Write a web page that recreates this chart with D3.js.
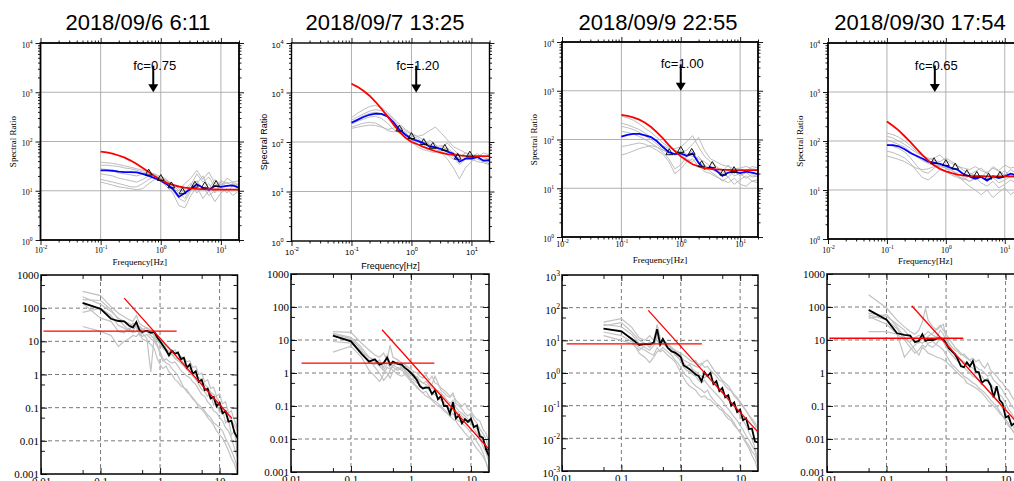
<!DOCTYPE html>
<html>
<head>
<meta charset="utf-8">
<script src="https://cdn.jsdelivr.net/npm/d3@7"></script>
<style>
  body { margin: 0; background: #fff; }
  svg { display: block; }
</style>
</head>
<body>
<div id="container"></div>
<script>
// ---- data ----
const titles = ["2018/09/6 6:11", "2018/09/7 13:25", "2018/09/9 22:55", "2018/09/30 17:54"];
const fcValues = [0.75, 1.20, 1.00, 0.65];

// spectral ratio panels (top row)
const topFreq = [0.1, 0.126, 0.158, 0.2, 0.251, 0.316, 0.398, 0.501, 0.631, 0.794, 1, 1.26, 1.58, 2, 2.51, 3.16, 3.98, 5.01, 6.31, 7.94, 10, 12.6, 15.8, 20];

const ratioRed1 = [62, 60, 57, 52, 47, 41, 35, 29, 24, 19.6, 16.6, 14.5, 13.1, 12.2, 11.6, 11.2, 10.9, 10.8, 10.7, 10.6, 10.55, 10.5, 10.5, 10.5];
const ratioRed2 = [1500, 1300, 1080, 860, 650, 470, 330, 225, 160, 122, 100, 90, 80, 72, 65, 60, 57, 55, 53.5, 52.5, 52, 52, 52, 52];
const ratioRed3 = [320, 305, 285, 255, 220, 180, 140, 105, 77, 58, 45, 37, 31, 28, 26, 25, 24.5, 24, 23.8, 23.6, 23.5, 23.5, 23.5, 23.5];
const ratioRed4 = [250, 205, 165, 125, 95, 70, 52, 40, 32, 27, 24, 22, 20.5, 19.8, 19.4, 19.2, 19.1, 19, 19, 19, 19, 19, 19, 19];

const ratioBlue1 = [26, 26, 25.5, 24.5, 24, 24, 23.5, 22, 20, 18, 16, 13.5, 11, 7.5, 9, 11, 13.5, 11.5, 10.5, 12.5, 12, 12.5, 12.8, 11.5];
const ratioBlue2 = [245, 280, 320, 355, 375, 370, 330, 250, 175, 140, 115, 105, 95, 82, 78, 72, 64, 58, 40, 46, 46, 50, 42, 43];
const ratioBlue3 = [115, 125, 131, 130, 122, 112, 92, 70, 55, 50, 52, 46, 52, 33, 25, 27, 23, 18, 21, 22, 20.5, 22, 21, 19.5];
const ratioBlue4 = [82, 82, 78, 68, 57, 50, 44, 38, 36, 34, 31, 28, 26, 21, 19, 17, 18.5, 15.5, 19, 17.5, 19, 21.5, 20, 20];

const ratioGray1 = [
  [38, 37, 36, 34, 32, 30, 28, 26, 24, 21, 18, 16, 14, 11, 9, 13, 22, 15, 19, 12, 16, 14, 15, 13],
  [33, 33, 32, 31, 29, 28, 26, 24, 22, 20, 17, 14, 10, 7, 6, 10, 14, 20, 11, 17, 13, 15, 12, 14],
  [28, 27, 25, 23, 22, 21, 20, 22, 23, 22, 19, 15, 11, 8, 11, 14, 9, 12, 8, 10, 12, 9, 13, 11],
  [22, 21, 20, 18, 17, 16, 15, 17, 20, 21, 16, 12, 9, 5, 4.5, 8, 12, 7, 10, 6, 9, 11, 8, 10],
  [17, 16, 15, 14, 13, 12, 12, 14, 17, 19, 18, 16, 13, 10, 14, 18, 26, 17, 24, 14, 12, 18, 15, 16],
  [15, 14, 13, 12, 11.5, 11, 10.5, 11, 14, 17, 20, 17, 12, 9, 7, 11, 16, 11, 14, 9, 15, 12, 14, 12]
];
const ratioGray2 = [
  [310, 380, 450, 520, 550, 500, 400, 300, 230, 180, 150, 130, 140, 170, 200, 150, 110, 80, 70, 60, 55, 50, 60, 55],
  [275, 320, 370, 420, 450, 430, 370, 280, 200, 150, 120, 110, 100, 90, 80, 85, 70, 50, 35, 45, 50, 45, 40, 42],
  [230, 260, 290, 320, 330, 300, 240, 180, 150, 140, 130, 120, 95, 80, 70, 65, 55, 45, 50, 60, 55, 48, 44, 40],
  [200, 220, 240, 250, 240, 210, 170, 160, 170, 160, 110, 90, 80, 110, 90, 60, 45, 30, 18, 30, 40, 50, 42, 36],
  [188, 200, 210, 220, 215, 200, 180, 190, 210, 170, 140, 130, 110, 90, 75, 70, 75, 60, 55, 50, 45, 40, 38, 35],
  [250, 290, 340, 380, 400, 370, 320, 250, 190, 140, 100, 80, 70, 65, 60, 80, 95, 70, 55, 48, 52, 58, 48, 45]
];
const ratioGray3 = [
  [300, 280, 250, 210, 170, 140, 110, 85, 70, 60, 55, 60, 80, 110, 60, 40, 35, 30, 28, 25, 26, 28, 25, 24],
  [216, 200, 180, 160, 135, 110, 90, 75, 65, 65, 70, 90, 120, 70, 45, 35, 28, 22, 30, 20, 25, 22, 28, 26],
  [186, 175, 160, 140, 120, 100, 80, 62, 50, 48, 55, 50, 45, 40, 35, 28, 24, 20, 17, 22, 18, 21, 17, 18],
  [146, 140, 130, 115, 100, 85, 70, 55, 40, 25, 30, 45, 60, 35, 28, 22, 18, 14, 17, 12, 15, 18, 14, 13],
  [72, 75, 80, 85, 80, 70, 60, 50, 35, 20, 25, 35, 40, 28, 22, 20, 17, 15, 13, 16, 12, 11, 14, 15],
  [48, 52, 58, 65, 70, 75, 70, 60, 55, 50, 48, 40, 35, 45, 30, 25, 22, 20, 24, 18, 20, 16, 19, 17]
];
const ratioGray4 = [
  [145, 135, 120, 100, 80, 62, 50, 42, 45, 52, 40, 35, 30, 28, 26, 30, 25, 22, 28, 24, 20, 26, 22, 24],
  [125, 115, 100, 85, 70, 58, 50, 45, 40, 38, 45, 38, 32, 25, 22, 20, 18, 24, 17, 20, 25, 18, 22, 20],
  [106, 95, 85, 75, 60, 48, 40, 35, 32, 30, 28, 25, 22, 18, 15, 18, 14, 12, 15, 11, 13, 16, 14, 15],
  [84, 78, 70, 60, 45, 32, 24, 22, 28, 35, 30, 25, 20, 15, 12, 10, 8, 10, 7, 9, 11, 8, 10, 9],
  [62, 58, 52, 45, 35, 25, 18, 16, 20, 26, 24, 20, 18, 16, 20, 24, 28, 22, 30, 25, 32, 28, 30, 27],
  [49, 46, 42, 38, 32, 28, 26, 27, 30, 32, 28, 22, 19, 17, 15, 17, 20, 16, 18, 14, 16, 19, 17, 18]
];

// triangle markers [frequency, ratio]
const ratioTri1 = [[0.63, 21.8], [1, 17], [1.5, 12], [2.3, 9.1], [3.7, 12.4], [5.4, 12], [8.3, 12.8]];
const ratioTri2 = [[0.63, 174], [1, 123], [1.6, 93], [2.27, 78], [3.6, 71], [5.9, 47], [9.4, 52]];
const ratioTri3 = [[0.64, 51], [1, 57], [1.53, 52], [2.25, 29], [3.4, 28], [5.2, 19.5], [7.9, 22]];
const ratioTri4 = [[0.63, 36], [1, 33], [1.44, 28], [2.27, 20.5], [3.35, 19], [5.3, 17.5], [8.3, 19]];

// source spectra panels (bottom row)
const botFreq = [0.05, 0.1, 0.15, 0.2, 0.25, 0.3, 0.35, 0.4, 0.45, 0.5, 0.6, 0.7, 0.8, 0.9, 1.0, 1.12, 1.26, 1.41, 1.58, 1.78, 2.0, 2.24, 2.51, 2.82, 3.16, 3.55, 3.98, 4.47, 5.01, 5.62, 6.31, 7.08, 7.94, 8.91, 10, 11.2, 12.6, 14.1, 15.8, 17.8, 20];

const specMean1 = [145, 95, 48, 41, 40, 30, 26, 38, 22, 19, 21, 18, 19, 13, 10, 7.5, 5.5, 3.8, 5.2, 4.2, 4.6, 2.9, 3.2, 1.6, 2.0, 1.05, 1.25, 0.6, 0.7, 0.34, 0.37, 0.19, 0.21, 0.11, 0.14, 0.068, 0.078, 0.038, 0.04, 0.018, 0.012];
const specMean2 = [13.5, 9.1, 3.8, 2.2, 2.6, 1.8, 2.0, 2.9, 1.8, 2.2, 1.9, 1.8, 1.4, 1.2, 1.0, 0.8, 0.6, 0.4, 0.34, 0.36, 0.36, 0.23, 0.3, 0.16, 0.2, 0.1, 0.1, 0.058, 0.13, 0.042, 0.052, 0.03, 0.04, 0.033, 0.041, 0.023, 0.026, 0.012, 0.011, 0.005, 0.003];
const specMean3 = [22.7, 18.8, 11, 7.2, 7.8, 7.5, 8.5, 22, 7.5, 11, 6, 4.6, 4.2, 3.6, 3.1, 1.7, 1.5, 1.3, 1.1, 0.9, 0.81, 0.56, 1.06, 0.8, 1.0, 0.46, 0.56, 0.28, 0.35, 0.18, 0.21, 0.1, 0.125, 0.064, 0.075, 0.036, 0.041, 0.019, 0.02, 0.008, 0.0075];
const specMean4 = [82, 41, 16, 14.4, 13.7, 8.6, 9.5, 15, 9.4, 10, 10, 11, 11.3, 10.5, 8, 5.5, 4.5, 3.7, 2.6, 1.6, 1.5, 2.1, 1.6, 2.3, 1.1, 1.05, 0.5, 0.6, 0.6, 0.42, 0.18, 0.4, 0.15, 0.12, 0.045, 0.05, 0.026, 0.03, 0.017, 0.018, 0.01];

const specGray1 = [
  [320, 240, 110, 70, 55, 45, 40, 60, 35, 30, 25, 22, 20, 14, 11, 9, 7, 6.5, 5, 5.5, 4, 3.5, 3.2, 2.4, 2.6, 1.6, 1.8, 1.0, 1.1, 0.6, 0.7, 0.38, 0.42, 0.22, 0.26, 0.13, 0.15, 0.07, 0.08, 0.04, 0.025],
  [220, 130, 80, 50, 40, 35, 30, 28, 25, 22, 26, 19, 15, 11, 8, 6, 5, 3.5, 4.2, 3.0, 2.6, 2.2, 1.8, 1.4, 1.1, 0.9, 0.7, 0.5, 0.35, 0.3, 0.22, 0.28, 0.12, 0.16, 0.07, 0.09, 0.035, 0.045, 0.015, 0.02, 0.004],
  [75, 100, 60, 30, 25, 20, 35, 25, 20, 14, 16, 12, 10, 7, 5, 3, 2.2, 2, 1.5, 1.2, 0.9, 0.6, 0.4, 0.35, 0.25, 0.2, 0.15, 0.12, 0.1, 0.08, 0.06, 0.05, 0.035, 0.03, 0.025, 0.02, 0.012, 0.008, 0.005, 0.003, 0.0015],
  [28, 20, 15, 7, 10, 12, 15, 14, 18, 12, 10, 8, 6, 3, 2, 1.5, 1.8, 1.2, 1, 0.7, 0.6, 0.45, 0.4, 0.3, 0.25, 0.18, 0.15, 0.1, 0.09, 0.07, 0.05, 0.04, 0.03, 0.02, 0.015, 0.012, 0.008, 0.005, 0.003, 0.002, 0.001],
  [140, 50, 40, 20, 18, 25, 20, 30, 15, 18, 12, 1.2, 15, 10, 9, 7, 6, 5, 4, 3.2, 3.0, 2.8, 2.2, 1.8, 1.5, 1.1, 1.0, 0.8, 0.65, 0.5, 0.4, 0.3, 0.25, 0.2, 0.15, 0.1, 0.08, 0.06, 0.04, 0.03, 0.02],
  [180, 170, 90, 45, 30, 22, 18, 20, 28, 24, 20, 15, 12, 8, 4, 2.5, 3, 2.5, 2.2, 2.4, 1.8, 1.3, 1.1, 0.9, 0.8, 0.6, 0.5, 0.35, 0.25, 0.22, 0.15, 0.12, 0.08, 0.07, 0.05, 0.04, 0.025, 0.02, 0.012, 0.006, 0.003]
];
const specGray2 = [
  [18, 17, 8, 5, 3.5, 3, 4, 2.5, 7, 3, 2.5, 2, 1.8, 1.5, 1.3, 1.1, 1.0, 0.8, 0.7, 0.9, 0.6, 0.8, 0.5, 0.45, 0.35, 0.3, 0.25, 0.2, 0.22, 0.15, 0.12, 0.1, 0.12, 0.08, 0.07, 0.05, 0.04, 0.035, 0.02, 0.015, 0.008],
  [16, 12, 6, 3, 2.5, 2, 1.5, 3.5, 2, 1.5, 1.2, 1.5, 1.1, 0.9, 0.7, 0.6, 0.5, 0.45, 0.35, 0.4, 0.3, 0.25, 0.22, 0.18, 0.15, 0.13, 0.1, 0.08, 0.1, 0.07, 0.06, 0.05, 0.04, 0.035, 0.03, 0.025, 0.02, 0.015, 0.01, 0.006, 0.003],
  [13, 10, 4, 2.5, 1.5, 1, 0.6, 0.8, 1.2, 1.8, 1.4, 1.2, 1.0, 0.8, 0.6, 0.5, 0.35, 0.3, 0.25, 0.2, 0.18, 0.15, 0.12, 0.1, 0.09, 0.07, 0.06, 0.05, 0.04, 0.035, 0.025, 0.02, 0.015, 0.012, 0.01, 0.007, 0.005, 0.004, 0.003, 0.002, 0.001],
  [4.3, 6.5, 3, 1.2, 0.8, 0.55, 0.9, 1.5, 1.3, 1.6, 2.2, 1.4, 1.2, 1.0, 0.9, 0.7, 0.8, 0.6, 0.5, 0.45, 0.4, 0.45, 0.8, 0.5, 0.3, 0.25, 0.2, 0.18, 0.25, 0.12, 0.1, 0.08, 0.06, 0.05, 0.06, 0.04, 0.03, 0.02, 0.015, 0.01, 0.005],
  [15, 11, 5, 2, 1.8, 2.5, 1.2, 1.0, 0.7, 1.1, 1.5, 1.3, 1.6, 1.3, 1.1, 0.9, 0.7, 0.55, 0.5, 0.55, 0.45, 0.35, 0.3, 0.3, 0.25, 0.2, 0.15, 0.12, 0.15, 0.09, 0.07, 0.06, 0.05, 0.04, 0.03, 0.02, 0.015, 0.01, 0.006, 0.004, 0.002],
  [9, 8, 4.5, 3, 2.2, 1.6, 1.2, 2.0, 1.5, 1.2, 0.9, 0.8, 0.9, 0.7, 0.55, 0.45, 0.4, 0.3, 0.25, 0.28, 0.2, 0.16, 0.14, 0.12, 0.1, 0.08, 0.065, 0.05, 0.06, 0.04, 0.035, 0.03, 0.025, 0.02, 0.015, 0.012, 0.008, 0.006, 0.004, 0.002, 0.001]
];
const specGray3 = [
  [36, 46, 25, 12, 10, 14, 10, 30, 12, 9, 8, 6, 5, 4.5, 4, 3.5, 3, 2.5, 2.2, 2.4, 1.8, 2.0, 1.5, 1.6, 1.2, 1.0, 0.8, 0.6, 0.55, 0.4, 0.32, 0.28, 0.2, 0.16, 0.12, 0.09, 0.07, 0.05, 0.035, 0.025, 0.012],
  [31, 26, 15, 8, 6, 5, 7, 12, 10, 8, 6, 5, 4, 3, 2.5, 2.0, 1.6, 1.8, 1.3, 1.1, 0.9, 0.8, 0.7, 0.9, 0.6, 0.5, 0.4, 0.3, 0.25, 0.2, 0.15, 0.12, 0.09, 0.07, 0.05, 0.035, 0.025, 0.015, 0.01, 0.005, 0.002],
  [23, 20, 10, 4, 3, 2.1, 3, 4.5, 5, 6, 4.5, 3.5, 2.5, 2.0, 1.5, 1.0, 0.8, 0.7, 0.5, 0.4, 0.35, 0.3, 0.25, 0.3, 0.2, 0.15, 0.12, 0.1, 0.08, 0.06, 0.05, 0.04, 0.03, 0.02, 0.015, 0.01, 0.007, 0.005, 0.003, 0.002, 0.001],
  [18, 14, 9, 6, 5, 4, 3.5, 6, 4.5, 5, 3.5, 2.8, 2.2, 1.5, 1.0, 0.7, 0.5, 0.4, 0.35, 0.3, 0.22, 0.18, 0.2, 0.16, 0.15, 0.12, 0.1, 0.08, 0.07, 0.05, 0.04, 0.035, 0.025, 0.02, 0.015, 0.012, 0.008, 0.006, 0.004, 0.003, 0.0015],
  [14, 10, 8, 5, 7, 9, 8, 15, 9, 10, 8, 6, 4.5, 4, 3.2, 2.5, 2.2, 2.0, 1.8, 1.6, 1.5, 1.8, 2.2, 2.5, 1.8, 1.3, 1.0, 0.8, 0.6, 0.5, 0.4, 0.3, 0.22, 0.18, 0.13, 0.1, 0.07, 0.05, 0.04, 0.03, 0.02],
  [28, 35, 18, 10, 8, 6, 9, 10, 7, 8, 7, 5.5, 3.5, 3, 2.2, 1.5, 1.2, 1.1, 0.9, 0.8, 0.6, 0.5, 0.6, 0.45, 0.35, 0.28, 0.22, 0.18, 0.14, 0.1, 0.08, 0.06, 0.045, 0.035, 0.025, 0.018, 0.012, 0.009, 0.006, 0.004, 0.002]
];
const specGray4 = [
  [235, 93, 40, 25, 18, 15, 20, 35, 90, 40, 25, 20, 25, 30, 12, 8, 6, 5, 4.5, 3.5, 3.8, 3, 2.5, 2.8, 2.2, 2.5, 1.8, 1.4, 2.0, 1.2, 1.0, 0.8, 0.6, 0.5, 0.35, 0.3, 0.2, 0.15, 0.12, 0.08, 0.05],
  [65, 52, 30, 20, 12, 10, 8, 12, 15, 18, 14, 12, 20, 15, 10, 7, 5, 3.5, 3, 2.5, 2.2, 1.8, 1.6, 1.4, 1.1, 0.9, 0.8, 0.6, 0.7, 0.45, 0.35, 0.3, 0.22, 0.18, 0.12, 0.08, 0.06, 0.04, 0.03, 0.02, 0.01],
  [58, 41, 22, 10, 6, 4, 5, 7, 6, 8, 9, 7, 6, 5, 3.5, 2.5, 1.8, 1.5, 1.2, 1.0, 0.8, 0.7, 0.6, 0.5, 0.45, 0.35, 0.3, 0.25, 0.2, 0.15, 0.12, 0.1, 0.07, 0.05, 0.035, 0.025, 0.02, 0.015, 0.01, 0.006, 0.004],
  [52, 30, 15, 3, 5, 7, 9, 8, 10, 7, 6, 8, 12, 9, 6, 4.5, 3.5, 2.8, 2.2, 1.8, 1.5, 1.2, 1.0, 0.8, 0.7, 0.6, 0.45, 0.4, 0.3, 0.25, 0.2, 0.15, 0.12, 0.08, 0.06, 0.04, 0.03, 0.02, 0.015, 0.01, 0.006],
  [18, 18, 15, 10, 9, 12, 14, 11, 9, 13, 16, 22, 28, 20, 15, 11, 8, 6, 5, 4, 3.2, 2.8, 2.4, 2.0, 1.6, 1.3, 1.2, 1.0, 0.8, 0.9, 0.6, 0.5, 0.4, 0.3, 0.2, 0.15, 0.1, 0.08, 0.06, 0.04, 0.03],
  [45, 60, 25, 12, 8, 5, 3.5, 6, 5, 4, 3.5, 3, 2.8, 2.5, 2.2, 1.8, 1.5, 1.2, 1.0, 0.8, 0.7, 0.5, 0.45, 0.4, 0.35, 0.3, 0.25, 0.2, 0.15, 0.12, 0.1, 0.08, 0.06, 0.05, 0.04, 0.03, 0.02, 0.015, 0.01, 0.007, 0.005]
];

// red fits on the spectra: flat level and the f^-2 fall-off, as end points [frequency, amplitude]
const flatFits = [[[0.011, 20.4], [1.9, 20.4]], [[0.015, 2.0], [2.45, 2.0]], [[0.012, 7.8], [2.27, 7.8]], [[0.011, 11.3], [1.95, 11.3]]];
const slopeFits = [[[0.25, 200], [16.2, 0.047]], [[0.33, 20.5], [20.2, 0.0048]], [[0.284, 83], [19.3, 0.0166]], [[0.265, 109], [20, 0.019]]];

const ratioGray = [ratioGray1, ratioGray2, ratioGray3, ratioGray4];
const ratioRed = [ratioRed1, ratioRed2, ratioRed3, ratioRed4];
const ratioBlue = [ratioBlue1, ratioBlue2, ratioBlue3, ratioBlue4];
const ratioTri = [ratioTri1, ratioTri2, ratioTri3, ratioTri4];
const specGray = [specGray1, specGray2, specGray3, specGray4];
const specMean = [specMean1, specMean2, specMean3, specMean4];

// ---- layout ----
const SERIF = "'Liberation Serif','Times New Roman',Times,serif";
const SANS = "'Liberation Sans',Arial,Helvetica,sans-serif";
const titleX = [138, 385, 658, 920];
const topBoxes = [
  { x0: 40.5, x1: 239, y0: 43, y1: 240 },
  { x0: 291.5, x1: 489.5, y0: 43, y1: 241 },
  { x0: 562, x1: 758, y0: 42, y1: 237 },
  { x0: 828, x1: 1022.5, y0: 43, y1: 239 }
];
const topLabelOff = [10, 11, 7, 11];
const topFreqOff = [22, 25, 23, 22];
const botBoxes = [
  { x0: 41, x1: 237.5, y0: 275, y1: 474 },
  { x0: 291, x1: 489, y0: 274, y1: 472 },
  { x0: 562, x1: 758, y0: 275, y1: 471 },
  { x0: 827, x1: 1023.5, y0: 274, y1: 472 }
];

const svg = d3.select("#container").append("svg")
    .attr("width", 1014)
    .attr("height", 481);

svg.selectAll("text.title")
    .data(titles)
    .join("text")
    .attr("class", "title")
    .attr("x", (d, i) => titleX[i])
    .attr("y", 30)
    .attr("text-anchor", "middle")
    .style("font-family", SANS)
    .style("font-size", "22px")
    .attr("fill", "#000")
    .text(d => d);

const isDecade = v => Math.abs(Math.log10(v) - Math.round(Math.log10(v))) < 1e-6;
const leadDigit = v => Math.round(v / Math.pow(10, Math.floor(Math.log10(v) + 1e-9)));

function cleanAxis(sel, font, size) {
    sel.select(".domain").remove();
    sel.attr("font-family", font).attr("font-size", size);
    sel.selectAll(".tick line").attr("stroke", "#000").attr("stroke-width", 0.9);
    sel.selectAll(".tick text").attr("fill", "#000");
}

function supLabels(sel, size) {
    sel.selectAll(".tick text").each(function(d) {
        const t = d3.select(this);
        t.text("10");
        t.append("tspan")
            .attr("dy", -size * 0.45)
            .attr("font-size", size * 0.7)
            .text(Math.round(Math.log10(d)));
    });
}

function drawRatioPanel(i) {
    const b = topBoxes[i];
    const font = i === 1 ? SANS : SERIF;
    const fs = 8;
    const x = d3.scaleLog().domain([0.01, 20]).range([b.x0, b.x1]);
    const y = d3.scaleLog().domain([1, 10000]).range([b.y1, b.y0]);
    const g = svg.append("g");

    const clipId = "clipTop" + i;
    svg.append("clipPath").attr("id", clipId)
        .append("rect")
        .attr("x", b.x0).attr("y", b.y0)
        .attr("width", b.x1 - b.x0).attr("height", b.y1 - b.y0);

    // grid
    g.append("g").selectAll("line")
        .data([0.1, 1, 10])
        .join("line")
        .attr("x1", d => x(d)).attr("x2", d => x(d))
        .attr("y1", b.y0).attr("y2", b.y1)
        .attr("stroke", "#a8a8a8").attr("stroke-width", 0.9);
    g.append("g").selectAll("line")
        .data([10, 100, 1000])
        .join("line")
        .attr("x1", b.x0).attr("x2", b.x1)
        .attr("y1", d => y(d)).attr("y2", d => y(d))
        .attr("stroke", "#a8a8a8").attr("stroke-width", 0.9);

    const line = d3.line().x(d => x(d[0])).y(d => y(d[1]));
    const pts = vals => topFreq.map((f, k) => [f, vals[k]]);
    const plot = g.append("g").attr("clip-path", `url(#${clipId})`);

    plot.selectAll("path.gray")
        .data(ratioGray[i])
        .join("path")
        .attr("class", "gray")
        .attr("d", v => line(pts(v)))
        .attr("fill", "none")
        .attr("stroke", "#b4b4b4")
        .attr("stroke-width", 0.9);

    plot.append("path")
        .attr("d", line(pts(ratioBlue[i])))
        .attr("fill", "none")
        .attr("stroke", "#0000ff")
        .attr("stroke-width", 1.8);

    plot.append("path")
        .attr("d", line(pts(ratioRed[i])))
        .attr("fill", "none")
        .attr("stroke", "#ff0000")
        .attr("stroke-width", 1.8);

    plot.selectAll("path.tri")
        .data(ratioTri[i])
        .join("path")
        .attr("class", "tri")
        .attr("transform", d => `translate(${x(d[0])},${y(d[1]) - 1})`)
        .attr("d", d3.symbol(d3.symbolTriangle, 20))
        .attr("fill", "none")
        .attr("stroke", "#000")
        .attr("stroke-width", 0.9);

    // frame
    g.append("rect")
        .attr("x", b.x0).attr("y", b.y0)
        .attr("width", b.x1 - b.x0).attr("height", b.y1 - b.y0)
        .attr("fill", "none")
        .attr("stroke", "#000")
        .attr("stroke-width", i === 1 ? 1.4 : 1.8);

    // ticks (outside, GMT style)
    const xMaj = [0.01, 0.1, 1, 10];
    const xMin = x.ticks().filter(v => !isDecade(v));
    const yMaj = [1, 10, 100, 1000, 10000];
    const yMin = y.ticks().filter(v => !isDecade(v));

    g.append("g").attr("transform", `translate(0,${b.y1})`)
        .call(d3.axisBottom(x).tickValues(xMin).tickSize(2.5).tickFormat(""))
        .call(cleanAxis, font, fs);
    g.append("g").attr("transform", `translate(0,${b.y0})`)
        .call(d3.axisTop(x).tickValues(xMin).tickSize(2.5).tickFormat(""))
        .call(cleanAxis, font, fs);
    g.append("g").attr("transform", `translate(0,${b.y0})`)
        .call(d3.axisTop(x).tickValues(xMaj).tickSize(5).tickFormat(""))
        .call(cleanAxis, font, fs);
    g.append("g").attr("transform", `translate(${b.x0},0)`)
        .call(d3.axisLeft(y).tickValues(yMin).tickSize(2.5).tickFormat(""))
        .call(cleanAxis, font, fs);
    g.append("g").attr("transform", `translate(${b.x1},0)`)
        .call(d3.axisRight(y).tickValues(yMin).tickSize(2.5).tickFormat(""))
        .call(cleanAxis, font, fs);
    g.append("g").attr("transform", `translate(${b.x1},0)`)
        .call(d3.axisRight(y).tickValues(yMaj).tickSize(5).tickFormat(""))
        .call(cleanAxis, font, fs);

    const xAx = g.append("g").attr("transform", `translate(0,${b.y1})`)
        .call(d3.axisBottom(x).tickValues(xMaj).tickSize(5))
        .call(cleanAxis, font, fs);
    xAx.selectAll(".tick text").attr("y", topLabelOff[i]).attr("dy", "0.35em");
    supLabels(xAx, fs);

    const yAx = g.append("g").attr("transform", `translate(${b.x0},0)`)
        .call(d3.axisLeft(y).tickValues(yMaj).tickSize(5).tickPadding(3))
        .call(cleanAxis, font, fs);
    yAx.selectAll(".tick text").attr("dy", "0.5em");
    supLabels(yAx, fs);

    g.append("text")
        .attr("x", (b.x0 + b.x1) / 2)
        .attr("y", b.y1 + topFreqOff[i])
        .attr("dy", "0.35em")
        .attr("text-anchor", "middle")
        .style("font-family", font)
        .style("font-size", "9px")
        .text("Frequency[Hz]");

    g.append("text")
        .attr("transform", `translate(${b.x0 - 28},${(b.y0 + b.y1) / 2}) rotate(-90)`)
        .attr("text-anchor", "middle")
        .attr("dy", "0.35em")
        .style("font-family", font)
        .style("font-size", "9px")
        .text("Spectral Ratio");

    // corner frequency arrow
    const fc = fcValues[i];
    const ax = x(fc);
    const arrowTop = 3162, arrowTip = 1000;
    g.append("text")
        .attr("x", ax - 20)
        .attr("y", y(arrowTop) + 2)
        .style("font-family", SANS)
        .style("font-size", "13px")
        .text("fc=" + fc.toFixed(2));
    g.append("line")
        .attr("x1", ax).attr("x2", ax)
        .attr("y1", y(arrowTop) - 2).attr("y2", y(arrowTip) - 6)
        .attr("stroke", "#000").attr("stroke-width", 2);
    g.append("path")
        .attr("d", `M${ax - 5},${y(arrowTip) - 8}L${ax + 5},${y(arrowTip) - 8}L${ax},${y(arrowTip)}Z`)
        .attr("fill", "#000");
}

function drawSpecPanel(i) {
    const b = botBoxes[i];
    const fs = 11;
    const x = d3.scaleLog().domain([0.01, 20]).range([b.x0, b.x1]);
    const y = d3.scaleLog().domain([0.001, 1000]).range([b.y1, b.y0]);
    const g = svg.append("g");

    const clipId = "clipBot" + i;
    svg.append("clipPath").attr("id", clipId)
        .append("rect")
        .attr("x", b.x0).attr("y", b.y0)
        .attr("width", b.x1 - b.x0).attr("height", b.y1 - b.y0);

    // dashed grid
    g.append("g").selectAll("line")
        .data([0.1, 1, 10])
        .join("line")
        .attr("x1", d => x(d)).attr("x2", d => x(d))
        .attr("y1", b.y0).attr("y2", b.y1)
        .attr("stroke", "#7a7a7a").attr("stroke-width", 1)
        .attr("stroke-dasharray", "4,3");
    g.append("g").selectAll("line")
        .data([0.01, 0.1, 1, 10, 100])
        .join("line")
        .attr("x1", b.x0).attr("x2", b.x1)
        .attr("y1", d => y(d)).attr("y2", d => y(d))
        .attr("stroke", "#7a7a7a").attr("stroke-width", 1)
        .attr("stroke-dasharray", "4,3");

    const line = d3.line().x(d => x(d[0])).y(d => y(d[1]));
    const pts = vals => botFreq.map((f, k) => [f, vals[k]]);
    const plot = g.append("g").attr("clip-path", `url(#${clipId})`);

    plot.selectAll("path.gray")
        .data(specGray[i])
        .join("path")
        .attr("class", "gray")
        .attr("d", v => line(pts(v)))
        .attr("fill", "none")
        .attr("stroke", "#c2c2c2")
        .attr("stroke-width", 1.2);

    plot.append("path")
        .attr("d", line(pts(specMean[i])))
        .attr("fill", "none")
        .attr("stroke", "#000")
        .attr("stroke-width", 1.8);

    plot.selectAll("path.fit")
        .data([flatFits[i], slopeFits[i]])
        .join("path")
        .attr("class", "fit")
        .attr("d", d => line(d))
        .attr("fill", "none")
        .attr("stroke", "#ff0000")
        .attr("stroke-width", 1.3);

    g.append("rect")
        .attr("x", b.x0).attr("y", b.y0)
        .attr("width", b.x1 - b.x0).attr("height", b.y1 - b.y0)
        .attr("fill", "none")
        .attr("stroke", "#000")
        .attr("stroke-width", 1.5);

    // inside ticks: decades and fives
    const xMaj = [0.01, 0.1, 1, 10];
    const xMin = x.ticks().filter(v => leadDigit(v) === 5);
    const yMaj = [0.001, 0.01, 0.1, 1, 10, 100, 1000];
    const yMin = y.ticks().filter(v => leadDigit(v) === 5);

    g.append("g").attr("transform", `translate(0,${b.y1})`)
        .call(d3.axisBottom(x).tickValues(xMin).tickSize(-4).tickFormat(""))
        .call(cleanAxis, SERIF, fs);
    g.append("g").attr("transform", `translate(0,${b.y0})`)
        .call(d3.axisTop(x).tickValues(xMin).tickSize(-4).tickFormat(""))
        .call(cleanAxis, SERIF, fs);
    g.append("g").attr("transform", `translate(0,${b.y0})`)
        .call(d3.axisTop(x).tickValues(xMaj).tickSize(-6).tickFormat(""))
        .call(cleanAxis, SERIF, fs);
    g.append("g").attr("transform", `translate(${b.x0},0)`)
        .call(d3.axisLeft(y).tickValues(yMin).tickSize(-4).tickFormat(""))
        .call(cleanAxis, SERIF, fs);
    g.append("g").attr("transform", `translate(${b.x1},0)`)
        .call(d3.axisRight(y).tickValues(yMin).tickSize(-4).tickFormat(""))
        .call(cleanAxis, SERIF, fs);
    g.append("g").attr("transform", `translate(${b.x1},0)`)
        .call(d3.axisRight(y).tickValues(yMaj).tickSize(-6).tickFormat(""))
        .call(cleanAxis, SERIF, fs);

    g.append("g").attr("transform", `translate(0,${b.y1})`)
        .call(d3.axisBottom(x).tickValues(xMaj).tickSize(-6).tickPadding(3).tickFormat(d3.format("~g")))
        .call(cleanAxis, SERIF, fs);

    const yAx = g.append("g").attr("transform", `translate(${b.x0},0)`)
        .call(d3.axisLeft(y).tickValues(yMaj).tickSize(-6).tickPadding(2).tickFormat(d3.format("~g")))
        .call(cleanAxis, SERIF, fs);
    if (i === 2) {
        yAx.selectAll(".tick text").attr("dy", "0.5em");
        supLabels(yAx, fs);
    }
}

[0, 1, 2, 3].forEach(drawRatioPanel);
[0, 1, 2, 3].forEach(drawSpecPanel);
</script>
</body>
</html>
